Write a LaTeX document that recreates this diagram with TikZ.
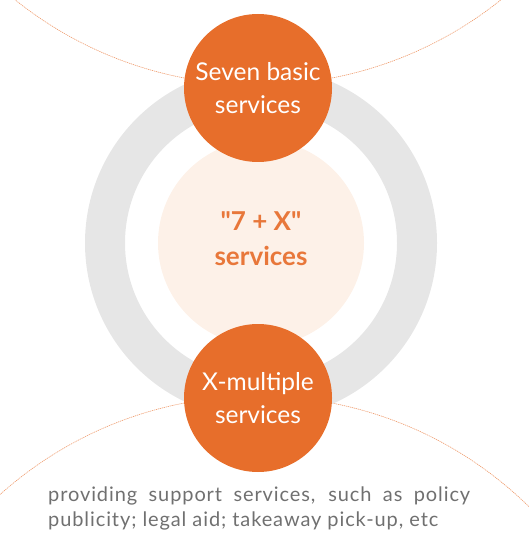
\documentclass[tikz,border=0pt]{standalone}
\usepackage{fontspec}
\setmainfont{Lato}
\usepackage{tikz}
\usetikzlibrary{positioning}
\definecolor{SvcOrange}{HTML}{E76E2B}
\definecolor{SvcText}{HTML}{E8773A}
\definecolor{SvcRing}{HTML}{E6E6E6}
\definecolor{SvcPale}{HTML}{FDF1E8}
\definecolor{SvcGray}{HTML}{707070}

\begin{document}
\begin{tikzpicture}[x=1pt,y=-1pt]
    \tikzset{bubble/.style={circle,fill=SvcOrange,minimum size=148pt,inner sep=0pt,
      text=white,align=center,font=\fontsize{24.5}{33}\selectfont},
      guide/.style={SvcOrange!70,line width=0.6pt,dash pattern=on 1.2pt off 0.8pt}}
    \useasboundingbox (0,0) rectangle (528,537);
    % dotted guide arcs
    \draw[guide] (258,-304) circle[radius=389pt];
    \draw[guide] (258,783) circle[radius=387pt];
    % ring and core
    \draw[SvcRing,line width=40pt] (261,243) circle[radius=156pt];
    \node[circle,fill=SvcPale,minimum size=206pt,inner sep=0pt] (core) at (261,243) {};
    \node[text=SvcText,align=center,font=\fontsize{26}{35}\bfseries\selectfont] (core label) at (261,239)
      {\textquotedbl 7 + X\textquotedbl\\services};
    \node[bubble] (basic) at (258,88) {Seven basic\\services};
    \node[bubble] (multi) at (258,398) {X-multiple\\services};
    \node[text=SvcGray,align=left,anchor=north west,inner sep=0pt,
      font=\fontsize{20}{25}\selectfont\addfontfeature{LetterSpace=4.5}] (extra) at (48,487)
      {\makebox[422pt][s]{providing support services, such as policy}\\publicity; legal aid; takeaway pick-up, etc};
\end{tikzpicture}
\end{document}
